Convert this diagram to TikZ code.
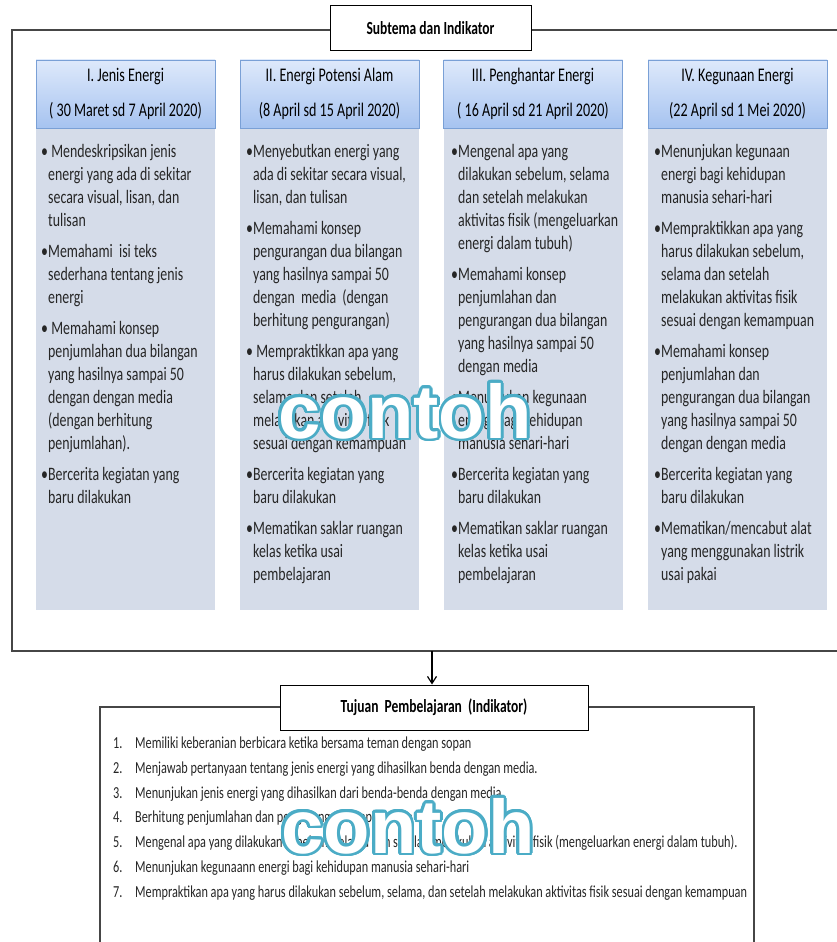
\documentclass[tikz,border=0pt]{standalone}
\usepackage{fontspec}
\setmainfont[FakeStretch=0.73]{Carlito}
\newfontfamily\markfont{Liberation Sans}
\usetikzlibrary{arrows.meta}

\definecolor{framegray}{RGB}{70,70,70}
\definecolor{headtop}{RGB}{222,233,251}
\definecolor{headbot}{RGB}{166,195,240}
\definecolor{headline}{RGB}{122,160,214}
\definecolor{bodyfill}{RGB}{213,220,233}
\definecolor{markblue}{RGB}{75,172,198}

\newcommand{\blt}{\makebox[7pt][l]{•}}
\newcommand{\cont}{\hspace*{7pt}}
\newcommand{\numb}[1]{\makebox[22pt][l]{#1}}

\tikzset{
  frameline/.style={draw=framegray,line width=1.3pt},
  titlebox/.style={draw=black,fill=white,line width=1pt,inner sep=0pt,
    font=\fontsize{18.5}{20}\selectfont\bfseries},
  headbox/.style={draw=headline,top color=headtop,bottom color=headbot,
    minimum width=179pt,minimum height=68pt,inner sep=0pt,align=center,
    font=\fontsize{19.3}{35}\selectfont},
  bodybox/.style={fill=bodyfill,minimum width=179pt,minimum height=482pt,inner sep=0pt},
  itemtext/.style={anchor=north west,inner sep=0pt,align=left,
    font=\fontsize{19}{23}\selectfont,text=black!85},
  goaltext/.style={anchor=north west,inner sep=0pt,align=left,
    font=\fontsize{16.8}{24.7}\selectfont,text=black!85},
  wmark/.style={inner sep=0pt,font=\markfont\bfseries\fontsize{76}{80}\selectfont},
  arrowline/.style={draw=black,line width=1.2pt,-{Straight Barb[length=7pt,width=9pt]}}
}

\begin{document}
\begin{tikzpicture}[x=1pt,y=1pt]
    \useasboundingbox (0,0) rectangle (837,-942);

    % subtema
    \draw[frameline] (837,-30) -- (12,-30) -- (12,-651) -- (837,-651);
    \node (subtema) at (430.5,-28) [titlebox,minimum width=201,minimum height=45] {Subtema dan Indikator};

    \node (body1) at (125.5,-369) [bodybox] {};
    \node (body2) at (329.5,-369) [bodybox] {};
    \node (body3) at (533,-369) [bodybox] {};
    \node (body4) at (737.5,-369) [bodybox] {};

    \node (head1) at (125.5,-94) [headbox] {I. Jenis Energi\\( 30 Maret sd 7 April 2020)};
    \node (head2) at (329.5,-94) [headbox] {II. Energi Potensi Alam\\(8 April sd 15 April 2020)};
    \node (head3) at (533,-94) [headbox] {III. Penghantar Energi\\( 16 April sd 21 April 2020)};
    \node (head4) at (737.5,-94) [headbox] {IV. Kegunaan Energi\\(22 April sd 1 Mei 2020)};

    \node (list1) at (41,-144) [itemtext] {\blt{} Mendeskripsikan jenis\\ \cont energi yang ada di sekitar\\ \cont secara visual, lisan, dan\\ \cont tulisan\\[8pt]
        \blt Memahami\ \ isi teks\\ \cont sederhana tentang jenis\\ \cont energi\\[8pt]
        \blt{} Memahami konsep\\ \cont penjumlahan dua bilangan\\ \cont yang hasilnya sampai 50\\ \cont dengan dengan media\\ \cont (dengan berhitung\\ \cont penjumlahan).\\[8pt]
        \blt Bercerita kegiatan yang\\ \cont baru dilakukan};

    \node (list2) at (246,-144) [itemtext] {\blt Menyebutkan energi yang\\ \cont ada di sekitar secara visual,\\ \cont lisan, dan tulisan\\[8pt]
        \blt Memahami konsep\\ \cont pengurangan dua bilangan\\ \cont yang hasilnya sampai 50\\ \cont dengan\ \ media\ \ (dengan\\ \cont berhitung pengurangan)\\[8pt]
        \blt{} Mempraktikkan apa yang\\ \cont harus dilakukan sebelum,\\ \cont selama dan setelah\\ \cont melakukan aktivitas fisik\\ \cont sesuai dengan kemampuan\\[8pt]
        \blt Bercerita kegiatan yang\\ \cont baru dilakukan\\[8pt]
        \blt Mematikan saklar ruangan\\ \cont kelas ketika usai\\ \cont pembelajaran};

    \node (list3) at (451,-144) [itemtext] {\blt Mengenal apa yang\\ \cont dilakukan sebelum, selama\\ \cont dan setelah melakukan\\ \cont aktivitas fisik (mengeluarkan\\ \cont energi dalam tubuh)\\[8pt]
        \blt Memahami konsep\\ \cont penjumlahan dan\\ \cont pengurangan dua bilangan\\ \cont yang hasilnya sampai 50\\ \cont dengan media\\[8pt]
        \blt Menunjukan kegunaan\\ \cont energi bagi kehidupan\\ \cont manusia sehari-hari\\[8pt]
        \blt Bercerita kegiatan yang\\ \cont baru dilakukan\\[8pt]
        \blt Mematikan saklar ruangan\\ \cont kelas ketika usai\\ \cont pembelajaran};

    \node (list4) at (654,-144) [itemtext] {\blt Menunjukan kegunaan\\ \cont energi bagi kehidupan\\ \cont manusia sehari-hari\\[8pt]
        \blt Mempraktikkan apa yang\\ \cont harus dilakukan sebelum,\\ \cont selama dan setelah\\ \cont melakukan aktivitas fisik\\ \cont sesuai dengan kemampuan\\[8pt]
        \blt Memahami konsep\\ \cont penjumlahan dan\\ \cont pengurangan dua bilangan\\ \cont yang hasilnya sampai 50\\ \cont dengan dengan media\\[8pt]
        \blt Bercerita kegiatan yang\\ \cont baru dilakukan\\[8pt]
        \blt Mematikan/mencabut alat\\ \cont yang menggunakan listrik\\ \cont usai pakai};

    % tujuan
    \draw[frameline] (100,-942) -- (100,-707) -- (754,-707) -- (754,-942);
    \node (tujuan) at (434,-707.5) [titlebox,minimum width=308,minimum height=45] {Tujuan\ \ Pembelajaran\ \ (Indikator)};
    \coordinate (split) at (432,-651);
    \draw[arrowline] (split) -- (split |- tujuan.north);

    \node (goals) at (113,-737) [goaltext] {\numb{1.}Memiliki keberanian berbicara ketika bersama teman dengan sopan\\
        \numb{2.}Menjawab pertanyaan tentang jenis energi yang dihasilkan benda dengan media.\\
        \numb{3.}Menunjukan jenis energi yang dihasilkan dari benda-benda dengan media\\
        \numb{4.}Berhitung penjumlahan dan pengurangan sampai angka 50\\
        \numb{5.}Mengenal apa yang dilakukan sebelum, selama dan setelah melakukan aktivitas fisik (mengeluarkan energi dalam tubuh).\\
        \numb{6.}Menunjukan kegunaann energi bagi kehidupan manusia sehari-hari\\
        \numb{7.}Mempraktikan apa yang harus dilakukan sebelum, selama, dan setelah melakukan aktivitas fisik sesuai dengan kemampuan};

    % watermark
    \foreach \a in {0,15,...,345} {
        \node (rimA\a) at (405,-411) [wmark,text=markblue,shift={(\a:2.8pt)}] {contoh};
        \node (rimB\a) at (408,-826) [wmark,text=markblue,shift={(\a:2.8pt)}] {contoh};
    }
    \node (markA) at (405,-411) [wmark,text=white] {contoh};
    \node (markB) at (408,-826) [wmark,text=white] {contoh};
\end{tikzpicture}
\end{document}
